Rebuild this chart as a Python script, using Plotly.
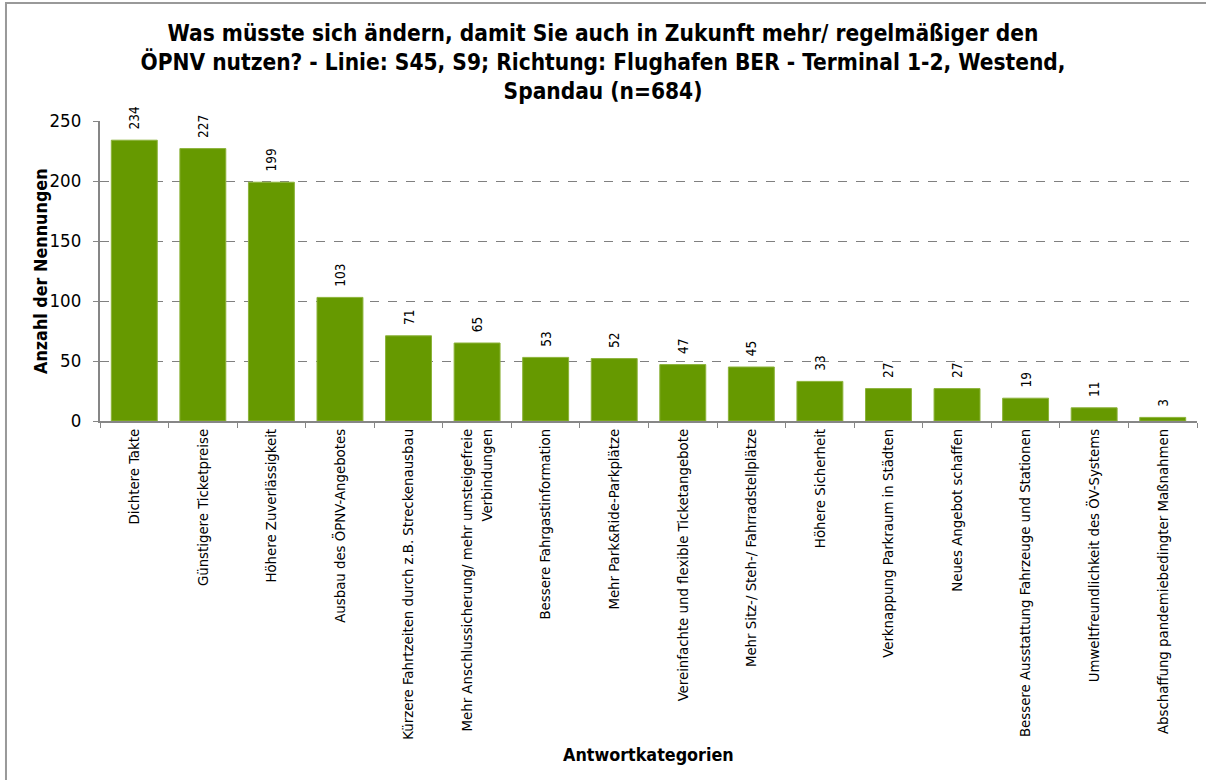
import plotly.graph_objects as go

# Antwortkategorien und Anzahl der Nennungen
kategorien = [
    "Dichtere Takte",
    "Günstigere Ticketpreise",
    "Höhere Zuverlässigkeit",
    "Ausbau des ÖPNV-Angebotes",
    "Kürzere Fahrtzeiten durch z.B. Streckenausbau",
    "Mehr Anschlussicherung/ mehr umsteigefreie<br>Verbindungen",
    "Bessere Fahrgastinformation",
    "Mehr Park&Ride-Parkplätze",
    "Vereinfachte und flexible Ticketangebote",
    "Mehr Sitz-/ Steh-/ Fahrradstellplätze",
    "Höhere Sicherheit",
    "Verknappung Parkraum in Städten",
    "Neues Angebot schaffen",
    "Bessere Ausstattung Fahrzeuge und Stationen",
    "Umweltfreundlichkeit des ÖV-Systems",
    "Abschaffung pandemiebedingter Maßnahmen",
]
nennungen = [234, 227, 199, 103, 71, 65, 53, 52, 47, 45, 33, 27, 27, 19, 11, 3]
y_ticks = [0, 50, 100, 150, 200, 250]

FONT = "Tahoma, 'DejaVu Sans Condensed', 'DejaVu Sans', sans-serif"
GRUEN = "#669900"
GRAU = "#868686"

fig = go.Figure()
fig.add_trace(go.Bar(
    x=kategorien,
    y=nennungen,
    marker=dict(color=GRUEN, line=dict(color="#8cb33a", width=1)),
    # Abstand zwischen Balken und Wert (wie in Excel)
    text=["\u00a0\u00a0" + str(v) for v in nennungen],
    textposition="outside",
    textangle=-90,
    textfont=dict(family=FONT, size=13.5, color="black"),
    cliponaxis=False,
    width=0.67,
    showlegend=False,
))

fig.update_layout(
    width=1206, height=780,
    margin=dict(l=100, r=9, t=121, b=359),
    paper_bgcolor="white",
    plot_bgcolor="white",
    font=dict(family=FONT, color="black"),
    title=dict(
        text="<b>Was müsste sich ändern, damit Sie auch in Zukunft mehr/ regelmäßiger den<br>"
             "ÖPNV nutzen? - Linie: S45, S9; Richtung: Flughafen BER - Terminal 1-2, Westend,<br>"
             "Spandau (n=684)</b>",
        x=0.5, xref="container", xanchor="center",
        y=0.948, yref="container", yanchor="top",
        font=dict(family=FONT, size=22.5, color="black"),
    ),
)

fig.update_xaxes(
    type="category",
    tickangle=-90,
    tickfont=dict(family=FONT, size=14.8),
    tickson="boundaries",
    ticks="outside",
    ticklen=5,
    tickcolor=GRAU,
    showline=True,
    linecolor=GRAU,
    linewidth=2,
    showgrid=False,
    automargin=False,
)

fig.update_yaxes(
    range=[0, 250],
    tickvals=y_ticks,
    tickfont=dict(family=FONT, size=18.5),
    ticks="outside",
    ticklen=5,
    tickcolor=GRAU,
    ticklabelstandoff=8,
    showline=True,
    linecolor=GRAU,
    linewidth=2,
    showgrid=True,
    gridcolor="#808080",
    griddash="dash",
    gridwidth=1,
    zeroline=False,
    automargin=False,
)

# Achsentitel
fig.add_annotation(
    text="<b>Antwortkategorien</b>", xref="paper", yref="paper",
    x=0.5, y=-1.113, showarrow=False, xanchor="center", yanchor="middle",
    font=dict(family=FONT, size=17.8),
)
fig.add_annotation(
    text="<b>Anzahl der Nennungen</b>", xref="paper", yref="paper",
    x=-0.0547, y=0.5, showarrow=False, xanchor="center", yanchor="middle",
    textangle=-90, font=dict(family=FONT, size=17.8),
)

# Rahmen um das Diagramm (rechts und unten abgeschnitten)
fig.add_shape(
    type="rect", xref="paper", yref="paper",
    x0=-0.0857, x1=1.02, y0=-1.3, y1=1.393,
    line=dict(color="#999999", width=2),
    layer="below",
)

fig.write_html("out.html", config={"displayModeBar": False},
               post_script="document.body.style.margin='0';")
